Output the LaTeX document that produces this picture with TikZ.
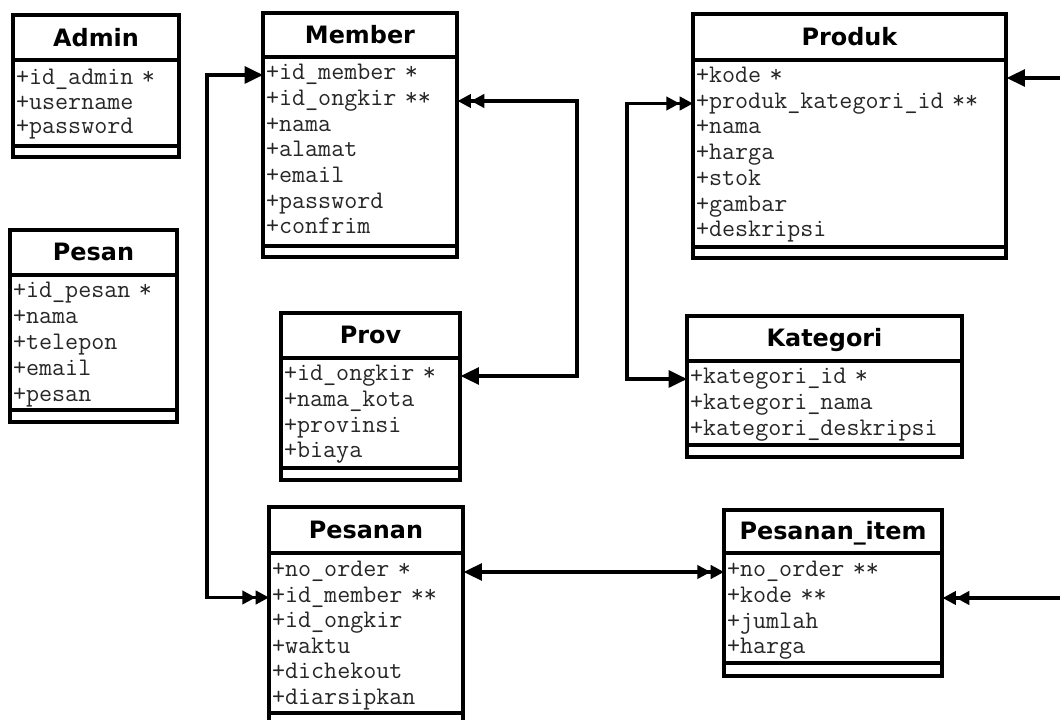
\documentclass[tikz,border=0pt]{standalone}
\usepackage{fontspec}
\newfontfamily\titlefont{DejaVu Sans}
\usetikzlibrary{arrows.meta}

\tikzset{
  tabletitle/.style={font=\titlefont\bfseries\fontsize{17}{18}\selectfont,
    inner sep=0pt, text height=12pt, text depth=0pt},
  field/.style={anchor=west, inner sep=0pt, text width=#1,
    text height=10pt, text depth=3pt, text=black!85,
    font=\ttfamily\fontsize{18}{20}\selectfont,
    execute at begin node={\hspace*{2pt}}},
  box/.style={line width=2.2pt, line join=miter},
  link/.style={line width=2.2pt, line join=miter},
  onetip/.tip={Triangle[length=13pt,width=12pt]},
  manytip/.tip={Triangle[length=9.5pt,width=9.5pt] Triangle[length=9.5pt,width=9.5pt]},
}

\begin{document}
\begin{tikzpicture}[x=0.025cm, y=-0.025cm]
      \useasboundingbox (0,0) rectangle (1060,720);

      % Admin
      \draw [box] (13,15) rectangle (179,157) (13,60) -- (179,60) (13,146) -- (179,146);
      \node [tabletitle] (admin) at (96,38) {Admin};
      \node [field=4.15cm] (adm-id) at (13,80) {+id\_admin *};
      \node [field=4.15cm] (adm-user) at (13,105) {+username};
      \node [field=4.15cm] (adm-pass) at (13,129) {+password};

      % Member
      \draw [box] (263,13) rectangle (457,257) (263,57) -- (457,57) (263,246) -- (457,246);
      \node [tabletitle] (member) at (360,35) {Member};
      \node [field=4.85cm] (mem-idm) at (263,75) {+id\_member *};
      \node [field=4.85cm] (mem-idong) at (263,101) {+id\_ongkir **};
      \node [field=4.85cm] (mem-nama) at (263,127) {+nama};
      \node [field=4.85cm] (mem-alamat) at (263,152) {+alamat};
      \node [field=4.85cm] (mem-email) at (263,178) {+email};
      \node [field=4.85cm] (mem-pass) at (263,204) {+password};
      \node [field=4.85cm] (mem-conf) at (263,229) {+confrim};

      % Produk
      \draw [box] (693,14) rectangle (1006,258) (693,60) -- (1006,60) (693,247) -- (1006,247);
      \node [tabletitle] (produk) at (849.5,37) {Produk};
      \node [field=7.825cm] (prod-kode) at (693,78) {+kode *};
      \node [field=7.825cm] (prod-pkid) at (693,103.5) {+produk\_kategori\_id **};
      \node [field=7.825cm] (prod-nama) at (693,129) {+nama};
      \node [field=7.825cm] (prod-harga) at (693,155) {+harga};
      \node [field=7.825cm] (prod-stok) at (693,181) {+stok};
      \node [field=7.825cm] (prod-gambar) at (693,206.5) {+gambar};
      \node [field=7.825cm] (prod-desk) at (693,232) {+deskripsi};

      % Pesan
      \draw [box] (10,230) rectangle (177,422) (10,275) -- (177,275) (10,410) -- (177,410);
      \node [tabletitle] (pesan) at (93.5,252.5) {Pesan};
      \node [field=4.175cm] (msg-id) at (10,293) {+id\_pesan *};
      \node [field=4.175cm] (msg-nama) at (10,319) {+nama};
      \node [field=4.175cm] (msg-tel) at (10,345) {+telepon};
      \node [field=4.175cm] (msg-email) at (10,371) {+email};
      \node [field=4.175cm] (msg-pesan) at (10,397) {+pesan};

      % Prov
      \draw [box] (281,313) rectangle (460,480) (281,358) -- (460,358) (281,468) -- (460,468);
      \node [tabletitle] (prov) at (370.5,335.5) {Prov};
      \node [field=4.475cm] (prov-idong) at (281,376) {+id\_ongkir *};
      \node [field=4.475cm] (prov-kota) at (281,402) {+nama\_kota};
      \node [field=4.475cm] (prov-prov) at (281,428) {+provinsi};
      \node [field=4.475cm] (prov-biaya) at (281,453) {+biaya};

      % Kategori
      \draw [box] (687,316) rectangle (962,457) (687,361) -- (962,361) (687,445) -- (962,445);
      \node [tabletitle] (kategori) at (824.5,338.5) {Kategori};
      \node [field=6.875cm] (kat-id) at (687,379) {+kategori\_id *};
      \node [field=6.875cm] (kat-nama) at (687,405) {+kategori\_nama};
      \node [field=6.875cm] (kat-desk) at (687,431) {+kategori\_deskripsi};

      % Pesanan
      \draw [box] (269,507) rectangle (463,728) (269,553) -- (463,553) (269,713) -- (463,713);
      \node [tabletitle] (pesanan) at (366,530) {Pesanan};
      \node [field=4.85cm] (ord-no) at (269,572) {+no\_order *};
      \node [field=4.85cm] (ord-idm) at (269,597.5) {+id\_member **};
      \node [field=4.85cm] (ord-idong) at (269,623) {+id\_ongkir};
      \node [field=4.85cm] (ord-waktu) at (269,648.5) {+waktu};
      \node [field=4.85cm] (ord-chk) at (269,674) {+dichekout};
      \node [field=4.85cm] (ord-arsip) at (269,699.5) {+diarsipkan};

      % Pesanan_item
      \draw [box] (724,510) rectangle (942,676) (724,553) -- (942,553) (724,663) -- (942,663);
      \node [tabletitle] (item) at (833,531.5) {Pesanan\_item};
      \node [field=5.45cm] (item-no) at (724,572) {+no\_order **};
      \node [field=5.45cm] (item-kode) at (724,598) {+kode **};
      \node [field=5.45cm] (item-jml) at (724,623.5) {+jumlah};
      \node [field=5.45cm] (item-harga) at (724,649) {+harga};

      % relations
      \coordinate (leftbus) at (207,0);
      \coordinate (provbus) at (577,0);
      \coordinate (katbus) at (627,0);
      \coordinate (rightbus) at (1090,0);

      \draw [link, onetip-manytip] (mem-idm.west) -- (mem-idm.west -| leftbus) |- (ord-idm.west);
      \draw [link, manytip-onetip] (mem-idong.east) -- (mem-idong.east -| provbus) |- (prov-idong.east);
      \draw [link, manytip-onetip] (prod-pkid.west) -- (prod-pkid.west -| katbus) |- (kat-id.west);
      \draw [link, onetip-manytip] (ord-no.east) -- (item-no.west);
      \draw [link, onetip-manytip] (prod-kode.east) -- (prod-kode.east -| rightbus) |- (item-kode.east);
    \end{tikzpicture}
\end{document}
